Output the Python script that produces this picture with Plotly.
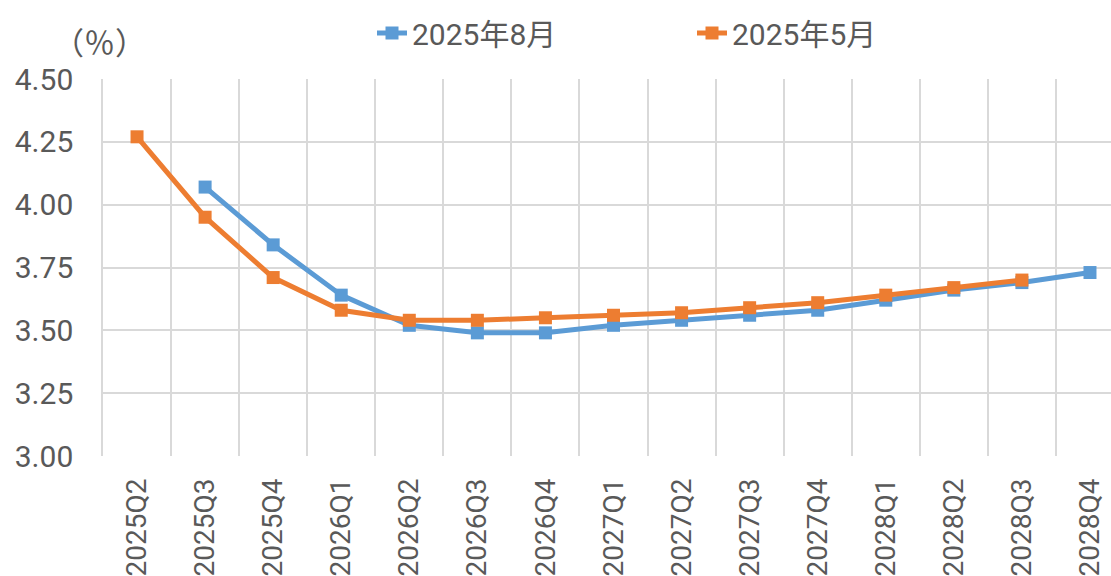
import plotly.graph_objects as go

categories = ["2025Q2", "2025Q3", "2025Q4", "2026Q1", "2026Q2", "2026Q3", "2026Q4",
              "2027Q1", "2027Q2", "2027Q3", "2027Q4", "2028Q1", "2028Q2", "2028Q3", "2028Q4"]

aug_cats = categories[1:]
aug_vals = [4.07, 3.84, 3.64, 3.52, 3.49, 3.49, 3.52, 3.54, 3.56, 3.58, 3.62, 3.66, 3.69, 3.73]

may_cats = categories[:14]
may_vals = [4.27, 3.95, 3.71, 3.58, 3.54, 3.54, 3.55, 3.56, 3.57, 3.59, 3.61, 3.64, 3.67, 3.70]

series_names = ["2025年8月", "2025年5月"]
y_ticks = [3.00, 3.25, 3.50, 3.75, 4.00, 4.25, 4.50]
unit_label = "（％）"

BLUE = "#5B9BD5"
ORANGE = "#ED7D31"
TXT = "#595959"
GRID = "#D9D9D9"
FONT = "Roboto, 'Noto Sans CJK JP', sans-serif"

fig = go.Figure()
fig.add_trace(go.Scatter(x=aug_cats, y=aug_vals, name=series_names[0], mode="lines+markers",
                         line=dict(color=BLUE, width=5),
                         marker=dict(symbol="square", size=13, color=BLUE)))
fig.add_trace(go.Scatter(x=may_cats, y=may_vals, name=series_names[1], mode="lines+markers",
                         line=dict(color=ORANGE, width=5),
                         marker=dict(symbol="square", size=13, color=ORANGE)))

L, T, B = 103, 79, 120
W, H = 1111, 576
pw = W - L
ph = H - T - B

fig.update_layout(
    width=W, height=H,
    margin=dict(l=L, r=0, t=T, b=B, autoexpand=False),
    paper_bgcolor="white", plot_bgcolor="white",
    font=dict(family=FONT, size=30, color=TXT),
    showlegend=True,
    legend=dict(orientation="h", xref="container", yref="container",
                x=372 / W, xanchor="left",
                y=1 - 33 / H, yanchor="middle",
                entrywidth=275, font=dict(family=FONT, size=30, color=TXT),
                bgcolor="rgba(0,0,0,0)"),
    annotations=[dict(text=unit_label, xref="paper", yref="paper",
                      x=(99 - L) / pw, y=1 + (T - 40) / ph,
                      xanchor="center", yanchor="middle", showarrow=False,
                      font=dict(family="'Noto Sans CJK JP', sans-serif", size=31, color=TXT))],
)

fig.update_xaxes(type="category", categoryorder="array", categoryarray=categories,
                 range=[-0.5, 14.5 - 13 / 68], tickson="boundaries",
                 showgrid=True, gridcolor=GRID, gridwidth=1.5,
                 tickangle=-90, ticks="", ticklabelstandoff=16, automargin=False,
                 showline=False, zeroline=False,
                 tickfont=dict(family=FONT, size=28, color=TXT))
fig.update_yaxes(range=[3.0, 4.5], tickvals=y_ticks, tickformat=".2f",
                 showgrid=True, gridcolor=GRID, gridwidth=1.5, automargin=False,
                 ticks="", ticklabelstandoff=22, zeroline=False,
                 showline=True, linecolor=GRID, linewidth=1.5,
                 tickfont=dict(family=FONT, size=30, color=TXT))

fig.write_html("out.html", config={"displayModeBar": False},
               post_script="document.body.style.margin='0px';document.body.style.overflow='hidden';")
